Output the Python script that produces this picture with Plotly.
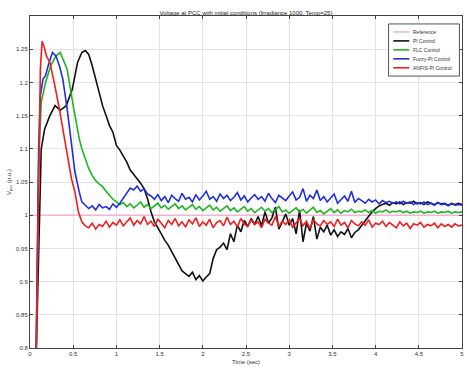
import numpy as np
import plotly.graph_objects as go

# ---- data -------------------------------------------------------------
# start-up transients (time in s, voltage in p.u.)
pi_t0 = [0.07, 0.10, 0.13, 0.17, 0.23, 0.29, 0.35, 0.42, 0.49, 0.55, 0.60]
pi_v0 = [0.78, 0.96, 1.10, 1.13, 1.15, 1.165, 1.158, 1.165, 1.19, 1.23, 1.245]

flc_t0 = [0.07, 0.10, 0.13, 0.18, 0.24, 0.30, 0.35, 0.40, 0.43, 0.50, 0.57, 0.60]
flc_v0 = [0.78, 1.08, 1.17, 1.20, 1.225, 1.24, 1.245, 1.23, 1.22, 1.165, 1.115, 1.10]

fuzzy_t0 = [0.07, 0.10, 0.12, 0.15, 0.18, 0.21, 0.26, 0.30, 0.34, 0.38, 0.43, 0.48, 0.52, 0.57, 0.60]
fuzzy_v0 = [0.78, 1.10, 1.18, 1.205, 1.21, 1.225, 1.245, 1.24, 1.225, 1.205, 1.16, 1.11, 1.065, 1.035, 1.02]

anfis_t0 = [0.07, 0.10, 0.12, 0.14, 0.16, 0.19, 0.23, 0.28, 0.34, 0.42, 0.48, 0.52, 0.56, 0.60]
anfis_v0 = [0.78, 1.05, 1.22, 1.262, 1.255, 1.24, 1.23, 1.20, 1.16, 1.10, 1.055, 1.035, 1.005, 0.99]

# sampled record from 0.64 s to 5 s every 0.04 s
t_rec = np.round(np.arange(0.64, 5.0001, 0.04), 2)

pi_rec = [
    1.248, 1.242, 1.225, 1.205, 1.185, 1.165, 1.150, 1.135, 1.125, 1.105,
    1.098, 1.090, 1.080, 1.068, 1.062, 1.055, 1.048, 1.040, 1.025, 1.005,
    0.990, 0.982, 0.972, 0.962, 0.955, 0.945, 0.936, 0.925, 0.916, 0.912,
    0.908, 0.914, 0.903, 0.909, 0.901, 0.907, 0.912, 0.935, 0.948, 0.952,
    0.958, 0.948, 0.972, 0.960, 0.985, 0.975, 0.992, 0.983, 0.995, 0.986,
    0.998, 0.984, 1.005, 0.988, 0.996, 1.012, 0.979, 0.990, 1.002, 0.985,
    0.995, 0.972, 1.008, 0.960, 0.988, 0.976, 0.998, 0.964, 0.982, 0.975,
    0.985, 0.970, 0.978, 0.968, 0.975, 0.971, 0.980, 0.966, 0.974, 0.978,
    0.985, 0.992, 0.998, 1.005, 1.010, 1.014, 1.016, 1.018, 1.015, 1.019,
    1.017, 1.020, 1.016, 1.019, 1.018, 1.021, 1.017, 1.019, 1.016, 1.020,
    1.018, 1.016, 1.019, 1.017, 1.018, 1.015, 1.017, 1.016, 1.018, 1.016,
]

flc_rec = [
    1.085, 1.070, 1.060, 1.052, 1.047, 1.043, 1.036, 1.030, 1.024, 1.020,
    1.016, 1.019, 1.013, 1.017, 1.011, 1.015, 1.020, 1.012, 1.016, 1.010,
    1.014, 1.018, 1.011, 1.015, 1.009, 1.013, 1.017, 1.010, 1.014, 1.008,
    1.012, 1.016, 1.009, 1.013, 1.007, 1.011, 1.015, 1.008, 1.012, 1.006,
    1.010, 1.014, 1.007, 1.011, 1.005, 1.009, 1.013, 1.006, 1.010, 1.004,
    1.008, 1.012, 1.006, 1.010, 1.004, 1.009, 1.013, 1.005, 1.008, 1.003,
    1.007, 1.011, 1.005, 1.009, 1.003, 1.008, 1.012, 1.004, 1.007, 1.002,
    1.006, 1.010, 1.004, 1.008, 1.003, 1.007, 1.005, 1.009, 1.004, 1.006,
    1.005, 1.008, 1.004, 1.007, 1.003, 1.006, 1.005, 1.008, 1.004, 1.006,
    1.005, 1.007, 1.004, 1.006, 1.003, 1.005, 1.004, 1.006, 1.003, 1.005,
    1.004, 1.006, 1.003, 1.005, 1.004, 1.006, 1.003, 1.005, 1.004, 1.005,
]

fuzzy_rec = [
    1.015, 1.010, 1.014, 1.008, 1.016, 1.011, 1.013, 1.009, 1.017, 1.012,
    1.018, 1.026, 1.035, 1.041, 1.038, 1.044, 1.036, 1.040, 1.032, 1.029,
    1.024, 1.031, 1.022, 1.028, 1.019, 1.030, 1.025, 1.021, 1.033, 1.024,
    1.027, 1.020, 1.031, 1.023, 1.029, 1.036, 1.024, 1.028, 1.021, 1.032,
    1.025, 1.030, 1.022, 1.027, 1.034, 1.023, 1.029, 1.020, 1.026, 1.031,
    1.024, 1.028, 1.021, 1.033, 1.025, 1.019, 1.030, 1.026, 1.022, 1.029,
    1.035, 1.023, 1.027, 1.040, 1.021, 1.030, 1.025, 1.038, 1.022, 1.028,
    1.020, 1.026, 1.032, 1.018, 1.024, 1.029, 1.021, 1.036, 1.019, 1.025,
    1.022, 1.018, 1.024, 1.020, 1.023, 1.017, 1.022, 1.019, 1.021, 1.018,
    1.020, 1.017, 1.021, 1.018, 1.020, 1.016, 1.019, 1.017, 1.020, 1.016,
    1.018, 1.015, 1.019, 1.016, 1.017, 1.014, 1.018, 1.015, 1.016, 1.015,
]

anfis_rec = [
    0.984, 0.981, 0.988, 0.979, 0.986, 0.983, 0.991, 0.982, 0.989, 0.985,
    0.993, 0.984, 0.990, 0.996, 0.985, 0.992, 0.987, 0.998, 0.986, 0.991,
    0.983, 0.994, 0.988, 0.981, 0.992, 0.986, 0.995, 0.984, 0.990, 0.982,
    0.993, 0.987, 0.996, 0.983, 0.990, 0.985, 0.994, 0.981, 0.989, 0.992,
    0.984, 0.997, 0.986, 0.991, 0.982, 0.995, 0.987, 0.983, 0.993, 0.986,
    0.990, 0.981, 0.994, 0.988, 0.985, 0.998, 0.983, 0.991, 0.986, 0.993,
    0.982, 0.989, 0.995, 0.984, 0.991, 0.980, 0.993, 0.987, 0.984, 0.992,
    0.986, 0.990, 0.983, 0.994, 0.985, 0.989, 0.981, 0.992, 0.987, 0.984,
    0.990, 0.985, 0.993, 0.982, 0.988, 0.986, 0.991, 0.983, 0.989, 0.985,
    0.981, 0.990, 0.984, 0.988, 0.980, 0.987, 0.985, 0.989, 0.982, 0.986,
    0.984, 0.988, 0.981, 0.987, 0.983, 0.986, 0.982, 0.987, 0.984, 0.985,
]

ref_t = [0.0, 5.0]
ref_v = [1.0, 1.0]

x_ticks = [0, 0.5, 1, 1.5, 2, 2.5, 3, 3.5, 4, 4.5, 5]
x_labels = ["0", "0.5", "1", "1.5", "2", "2.5", "3", "3.5", "4", "4.5", "5"]
y_ticks = [0.8, 0.85, 0.9, 0.95, 1.0, 1.05, 1.1, 1.15, 1.2, 1.25]
y_labels = ["0.8", "0.85", "0.9", "0.95", "1", "1.05", "1.1", "1.15", "1.2", "1.25"]

# ---- figure -----------------------------------------------------------
FONT = "Liberation Sans, Arial, sans-serif"
TEXT = "#333333"

series = [
    ("Reference", ref_t, ref_v, "#f0b4d4"),
    ("PI Control", pi_t0 + list(t_rec), pi_v0 + pi_rec, "#111111"),
    ("FLC Control", flc_t0 + list(t_rec), flc_v0 + flc_rec, "#1fb51f"),
    ("Fuzzy-PI Control", fuzzy_t0 + list(t_rec), fuzzy_v0 + fuzzy_rec, "#1f2fe0"),
    ("ANFIS-PI Control", anfis_t0 + list(t_rec), anfis_v0 + anfis_rec, "#f01e1e"),
]

fig = go.Figure()
for name, t, v, c in series:
    fig.add_trace(go.Scatter(x=t, y=v, mode="lines", name=name,
                             line=dict(color=c, width=1.6), showlegend=False))

# compact boxed legend in the upper-right corner of the axes
box = dict(x0=0.830, x1=0.994, y0=0.819, y1=0.976)
fig.add_shape(type="rect", xref="paper", yref="paper", **box,
              line=dict(color="#555555", width=1), fillcolor="white", layer="above")
row_y = [0.952, 0.925, 0.898, 0.871, 0.844]
for (name, _, _, c), yy in zip(series, row_y):
    fig.add_shape(type="line", xref="paper", yref="paper",
                  x0=0.841, x1=0.878, y0=yy, y1=yy,
                  line=dict(color=c, width=1.6), layer="above")
    fig.add_annotation(xref="paper", yref="paper", x=0.883, y=yy,
                       text=name, showarrow=False, xanchor="left", yanchor="middle",
                       font=dict(family=FONT, size=5, color=TEXT))

axis_common = dict(
    showline=True, linecolor="#444444", linewidth=1, mirror="ticks",
    ticks="inside", ticklen=3, tickcolor="#444444",
    showgrid=True, gridcolor="#e4e4e4", gridwidth=1, zeroline=False,
    tickfont=dict(family=FONT, size=6, color=TEXT),
)

fig.update_xaxes(range=[0, 5], tickvals=x_ticks, ticktext=x_labels,
                 title=dict(text="Time (sec)", font=dict(family=FONT, size=6, color=TEXT),
                            standoff=3),
                 **axis_common)
fig.update_yaxes(range=[0.8, 1.3], tickvals=y_ticks, ticktext=y_labels,
                 title=dict(text="V<sub>pcc</sub> (p.u.)", font=dict(family=FONT, size=6, color=TEXT),
                            standoff=4),
                 **axis_common)

fig.update_layout(
    width=467, height=370,
    margin=dict(l=30, r=3, t=16, b=22),
    paper_bgcolor="white", plot_bgcolor="white",
    title=dict(text="Voltage at PCC with initial conditions (Irradiance 1000, Temp=25)",
               x=0.5, xref="paper", y=0.966, yref="container", yanchor="middle",
               font=dict(family=FONT, size=6, color="#222222")),
    showlegend=False,
)

fig.write_html("out.html")
